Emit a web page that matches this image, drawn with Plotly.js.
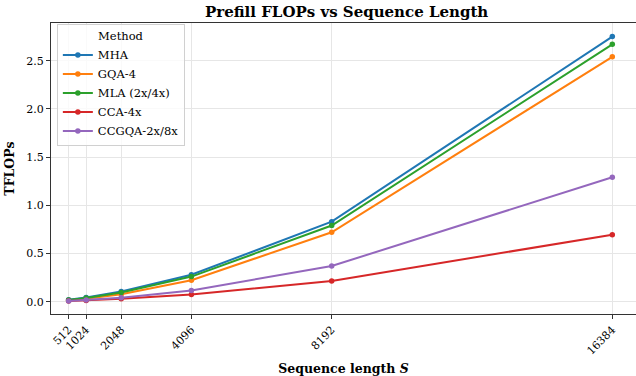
<!DOCTYPE html>
<html>
<head>
<meta charset="utf-8">
<script src="https://cdn.plot.ly/plotly-3.0.1.min.js"></script>
<style>html,body{margin:0;padding:0;background:#fff}#chart{width:636px;height:376px}</style>
</head>
<body>
<div id="chart"></div>
<script>
const seqLens = [512, 1024, 2048, 4096, 8192, 16384];
const tickLabels = ["512", "1024", "2048", "4096", "8192", "16384"];
const methods = ["MHA", "GQA-4", "MLA (2x/4x)", "CCA-4x", "CCGQA-2x/8x"];
const mha   = [0.020, 0.044, 0.105, 0.279, 0.83, 2.75];
const gqa4  = [0.013, 0.030, 0.077, 0.222, 0.72, 2.54];
const mla   = [0.017, 0.039, 0.095, 0.260, 0.79, 2.67];
const cca4  = [0.006, 0.012, 0.029, 0.074, 0.215, 0.695];
const ccgqa = [0.007, 0.016, 0.041, 0.116, 0.37, 1.29];
const colors = ["#1f77b4", "#ff7f0e", "#2ca02c", "#d62728", "#9467bd"];

const series = [mha, gqa4, mla, cca4, ccgqa];
const traces = series.map((ys, i) => ({
  x: seqLens, y: ys, name: methods[i], type: "scatter", mode: "lines+markers",
  line: {color: colors[i], width: 2},
  marker: {color: colors[i], size: 5.5}
}));

const font = "DejaVu Serif, serif";
const layout = {
  width: 636, height: 376,
  margin: {l: 51, r: 0, t: 23, b: 62},
  paper_bgcolor: "#fff", plot_bgcolor: "#fff",
  font: {family: font, size: 11, color: "#000"},
  title: {text: "<b>Prefill FLOPs vs Sequence Length</b>", font: {family: font, size: 15, color: "#000"},
          x: 0.545, xanchor: "center", y: 0.97, yanchor: "middle"},
  xaxis: {
    range: [-2, 17076], tickvals: seqLens, ticktext: tickLabels, tickangle: -45,
    ticks: "outside", ticklen: 4, tickcolor: "#333", tickwidth: 1,
    showline: true, linecolor: "#333", linewidth: 1, mirror: true,
    showgrid: true, gridcolor: "#e6e6e6", gridwidth: 1, zeroline: false,
    title: {text: "<b>Sequence length <i>S</i></b>", font: {family: font, size: 12.5}, standoff: 8}
  },
  yaxis: {
    range: [-0.128, 2.891], tickvals: [0, 0.5, 1.0, 1.5, 2.0, 2.5], ticktext: ["0.0","0.5","1.0","1.5","2.0","2.5"],
    ticks: "outside", ticklen: 4, tickcolor: "#333", tickwidth: 1,
    showline: true, linecolor: "#333", linewidth: 1, mirror: true,
    showgrid: true, gridcolor: "#e6e6e6", gridwidth: 1, zeroline: false,
    title: {text: "<b>TFLOPs</b>", font: {family: font, size: 12.5}, standoff: 8}
  },
  legend: {
    x: 0.01, y: 0.995, xanchor: "left", yanchor: "top",
    bgcolor: "rgba(255,255,255,0.8)", bordercolor: "#d0d0d0", borderwidth: 1,
    font: {family: font, size: 11.5},
    title: {text: "Method", side: "top center", font: {family: font, size: 11.5}},
    tracegroupgap: 0
  },
  showlegend: true
};
Plotly.newPlot("chart", traces, layout, {displayModeBar: false, staticPlot: true});
</script>
</body>
</html>
